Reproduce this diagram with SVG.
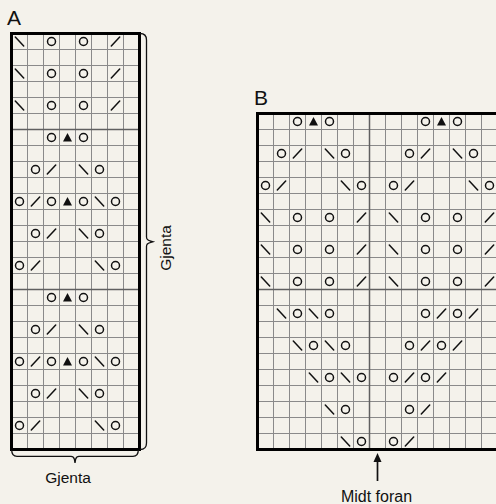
<svg xmlns="http://www.w3.org/2000/svg" width="496" height="504" viewBox="0 0 496 504">
<style>
.bg{fill:#f4f2eb}
.grid{fill:none;stroke:#8a8a8a;stroke-width:1}
.div{fill:none;stroke:#606060;stroke-width:1.5}
.border{fill:none;stroke:#000;stroke-width:3}
.sym{fill:none;stroke:#111;stroke-width:1.5;stroke-linecap:round}
.brace{fill:none;stroke:#111;stroke-width:1.3}
.lbl{font-family:"Liberation Sans",Arial,sans-serif;fill:#111}
</style>
<defs>
<circle id="o" class="sym" cx="0" cy="0" r="4"/>
<line id="bs" class="sym" x1="-4.2" y1="-4.5" x2="4.2" y2="4.5"/>
<line id="fs" class="sym" x1="-4.2" y1="4.5" x2="4.2" y2="-4.5"/>
<polygon id="tri" points="-4.5,4 4.5,4 0,-4.5" fill="#111"/>
</defs>
<rect class="bg" x="0" y="0" width="496" height="504"/>

<g id="chartA">
<text class="lbl" x="7" y="25" font-size="21">A</text>
<path class="grid" d="M27.5,33.5V449.5M43.5,33.5V449.5M59.5,33.5V449.5M75.5,33.5V449.5M91.5,33.5V449.5M107.5,33.5V449.5M123.5,33.5V449.5
M11.5,49.5H139.5M11.5,65.5H139.5M11.5,81.5H139.5M11.5,97.5H139.5M11.5,113.5H139.5M11.5,145.5H139.5M11.5,161.5H139.5M11.5,177.5H139.5M11.5,193.5H139.5M11.5,209.5H139.5M11.5,225.5H139.5M11.5,241.5H139.5M11.5,257.5H139.5M11.5,273.5H139.5M11.5,305.5H139.5M11.5,321.5H139.5M11.5,337.5H139.5M11.5,353.5H139.5M11.5,369.5H139.5M11.5,385.5H139.5M11.5,401.5H139.5M11.5,417.5H139.5M11.5,433.5H139.5"/>
<path class="div" d="M11.5,129.5H139.5M11.5,289.5H139.5"/>
<rect class="border" x="11.5" y="33.5" width="128" height="416"/>
<use href="#bs" x="19.5" y="41.5"/><use href="#o" x="51.5" y="41.5"/><use href="#o" x="83.5" y="41.5"/><use href="#fs" x="115.5" y="41.5"/>
<use href="#bs" x="19.5" y="73.5"/><use href="#o" x="51.5" y="73.5"/><use href="#o" x="83.5" y="73.5"/><use href="#fs" x="115.5" y="73.5"/>
<use href="#bs" x="19.5" y="105.5"/><use href="#o" x="51.5" y="105.5"/><use href="#o" x="83.5" y="105.5"/><use href="#fs" x="115.5" y="105.5"/>
<use href="#o" x="51.5" y="137.5"/><use href="#tri" x="67.5" y="137.5"/><use href="#o" x="83.5" y="137.5"/>
<use href="#o" x="35.5" y="169.5"/><use href="#fs" x="51.5" y="169.5"/><use href="#bs" x="83.5" y="169.5"/><use href="#o" x="99.5" y="169.5"/>
<use href="#o" x="19.5" y="201.5"/><use href="#fs" x="35.5" y="201.5"/><use href="#o" x="51.5" y="201.5"/><use href="#tri" x="67.5" y="201.5"/><use href="#o" x="83.5" y="201.5"/><use href="#bs" x="99.5" y="201.5"/><use href="#o" x="115.5" y="201.5"/>
<use href="#o" x="35.5" y="233.5"/><use href="#fs" x="51.5" y="233.5"/><use href="#bs" x="83.5" y="233.5"/><use href="#o" x="99.5" y="233.5"/>
<use href="#o" x="19.5" y="265.5"/><use href="#fs" x="35.5" y="265.5"/><use href="#bs" x="99.5" y="265.5"/><use href="#o" x="115.5" y="265.5"/>
<use href="#o" x="51.5" y="297.5"/><use href="#tri" x="67.5" y="297.5"/><use href="#o" x="83.5" y="297.5"/>
<use href="#o" x="35.5" y="329.5"/><use href="#fs" x="51.5" y="329.5"/><use href="#bs" x="83.5" y="329.5"/><use href="#o" x="99.5" y="329.5"/>
<use href="#o" x="19.5" y="361.5"/><use href="#fs" x="35.5" y="361.5"/><use href="#o" x="51.5" y="361.5"/><use href="#tri" x="67.5" y="361.5"/><use href="#o" x="83.5" y="361.5"/><use href="#bs" x="99.5" y="361.5"/><use href="#o" x="115.5" y="361.5"/>
<use href="#o" x="35.5" y="393.5"/><use href="#fs" x="51.5" y="393.5"/><use href="#bs" x="83.5" y="393.5"/><use href="#o" x="99.5" y="393.5"/>
<use href="#o" x="19.5" y="425.5"/><use href="#fs" x="35.5" y="425.5"/><use href="#bs" x="99.5" y="425.5"/><use href="#o" x="115.5" y="425.5"/>
</g>

<g id="chartB">
<text class="lbl" x="254" y="105" font-size="21">B</text>
<path class="grid" d="M273.5,113.5V449.5M289.5,113.5V449.5M305.5,113.5V449.5M321.5,113.5V449.5M337.5,113.5V449.5M353.5,113.5V449.5M385.5,113.5V449.5M401.5,113.5V449.5M417.5,113.5V449.5M433.5,113.5V449.5M449.5,113.5V449.5M465.5,113.5V449.5M481.5,113.5V449.5
M257.5,129.5H497.5M257.5,145.5H497.5M257.5,161.5H497.5M257.5,177.5H497.5M257.5,193.5H497.5M257.5,209.5H497.5M257.5,225.5H497.5M257.5,241.5H497.5M257.5,257.5H497.5M257.5,273.5H497.5M257.5,305.5H497.5M257.5,321.5H497.5M257.5,337.5H497.5M257.5,353.5H497.5M257.5,369.5H497.5M257.5,385.5H497.5M257.5,401.5H497.5M257.5,417.5H497.5M257.5,433.5H497.5"/>
<path class="div" d="M257.5,289.5H497.5M369.5,113.5V449.5"/>
<rect class="border" x="257.5" y="113.5" width="240" height="336"/>
<use href="#o" x="297.5" y="121.5"/><use href="#tri" x="313.5" y="121.5"/><use href="#o" x="329.5" y="121.5"/>
<use href="#o" x="425.5" y="121.5"/><use href="#tri" x="441.5" y="121.5"/><use href="#o" x="457.5" y="121.5"/>
<use href="#o" x="281.5" y="153.5"/><use href="#fs" x="297.5" y="153.5"/><use href="#bs" x="329.5" y="153.5"/><use href="#o" x="345.5" y="153.5"/>
<use href="#o" x="409.5" y="153.5"/><use href="#fs" x="425.5" y="153.5"/><use href="#bs" x="457.5" y="153.5"/><use href="#o" x="473.5" y="153.5"/>
<use href="#o" x="265.5" y="185.5"/><use href="#fs" x="281.5" y="185.5"/><use href="#bs" x="345.5" y="185.5"/><use href="#o" x="361.5" y="185.5"/>
<use href="#o" x="393.5" y="185.5"/><use href="#fs" x="409.5" y="185.5"/><use href="#bs" x="473.5" y="185.5"/><use href="#o" x="489.5" y="185.5"/>
<use href="#bs" x="265.5" y="217.5"/><use href="#o" x="297.5" y="217.5"/><use href="#o" x="329.5" y="217.5"/><use href="#fs" x="361.5" y="217.5"/>
<use href="#bs" x="393.5" y="217.5"/><use href="#o" x="425.5" y="217.5"/><use href="#o" x="457.5" y="217.5"/><use href="#fs" x="489.5" y="217.5"/>
<use href="#bs" x="265.5" y="249.5"/><use href="#o" x="297.5" y="249.5"/><use href="#o" x="329.5" y="249.5"/><use href="#fs" x="361.5" y="249.5"/>
<use href="#bs" x="393.5" y="249.5"/><use href="#o" x="425.5" y="249.5"/><use href="#o" x="457.5" y="249.5"/><use href="#fs" x="489.5" y="249.5"/>
<use href="#bs" x="265.5" y="281.5"/><use href="#o" x="297.5" y="281.5"/><use href="#o" x="329.5" y="281.5"/><use href="#fs" x="361.5" y="281.5"/>
<use href="#bs" x="393.5" y="281.5"/><use href="#o" x="425.5" y="281.5"/><use href="#o" x="457.5" y="281.5"/><use href="#fs" x="489.5" y="281.5"/>
<use href="#bs" x="281.5" y="313.5"/><use href="#o" x="297.5" y="313.5"/><use href="#bs" x="313.5" y="313.5"/><use href="#o" x="329.5" y="313.5"/>
<use href="#o" x="425.5" y="313.5"/><use href="#fs" x="441.5" y="313.5"/><use href="#o" x="457.5" y="313.5"/><use href="#fs" x="473.5" y="313.5"/>
<use href="#bs" x="297.5" y="345.5"/><use href="#o" x="313.5" y="345.5"/><use href="#bs" x="329.5" y="345.5"/><use href="#o" x="345.5" y="345.5"/>
<use href="#o" x="409.5" y="345.5"/><use href="#fs" x="425.5" y="345.5"/><use href="#o" x="441.5" y="345.5"/><use href="#fs" x="457.5" y="345.5"/>
<use href="#bs" x="313.5" y="377.5"/><use href="#o" x="329.5" y="377.5"/><use href="#bs" x="345.5" y="377.5"/><use href="#o" x="361.5" y="377.5"/>
<use href="#o" x="393.5" y="377.5"/><use href="#fs" x="409.5" y="377.5"/><use href="#o" x="425.5" y="377.5"/><use href="#fs" x="441.5" y="377.5"/>
<use href="#bs" x="329.5" y="409.5"/><use href="#o" x="345.5" y="409.5"/>
<use href="#o" x="409.5" y="409.5"/><use href="#fs" x="425.5" y="409.5"/>
<use href="#bs" x="345.5" y="441.5"/><use href="#o" x="361.5" y="441.5"/>
<use href="#o" x="393.5" y="441.5"/><use href="#fs" x="409.5" y="441.5"/>
</g>

<g id="connectors">
<path class="brace" d="M140,33.5 Q146.5,33.5 146.5,40 L146.5,237 Q146.5,240 150,240.8 L153,241.7 L150,242.6 Q146.5,243.4 146.5,246.5 L146.5,443 Q146.5,449.5 140,449.5"/>
<path class="brace" d="M11.7,450 Q11.7,456.3 17,456.3 L71,456.3 Q73.5,456.3 74.3,459 L75,463 L75.7,459 Q76.5,456.3 79,456.3 L133,456.3 Q138.3,456.3 138.3,450"/>
<line x1="377.5" y1="481" x2="377.5" y2="460" stroke="#111" stroke-width="1.7"/>
<polygon points="377.5,453 373.5,462 381.5,462" fill="#111"/>
</g>

<g id="labels">
<text class="lbl" font-size="15.5" text-anchor="middle" transform="translate(171,248) rotate(-90)">Gjenta</text>
<text class="lbl" x="68" y="483" font-size="15.5" text-anchor="middle">Gjenta</text>
<text class="lbl" x="376.5" y="501.5" font-size="16" text-anchor="middle">Midt foran</text>
</g>
</svg>
